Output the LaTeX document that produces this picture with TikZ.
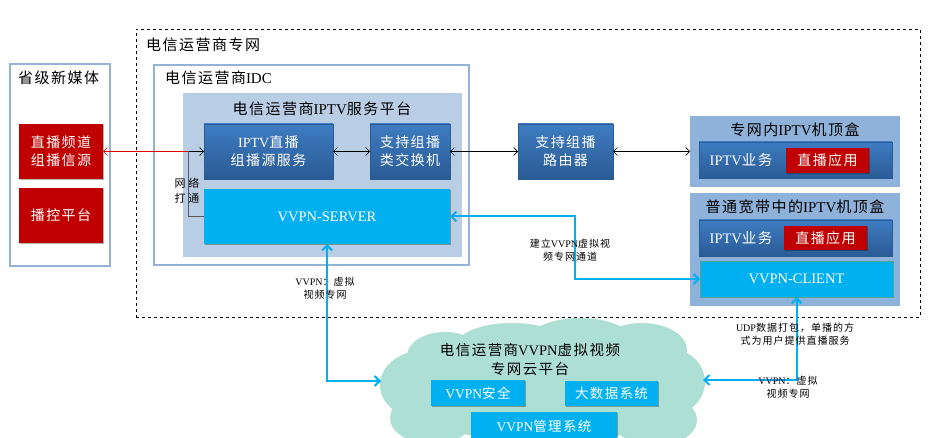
\documentclass[tikz,border=0pt]{standalone}
\usepackage{fontspec}
\setmainfont{Liberation Serif}
\newfontfamily\rmlat{Liberation Serif}
\newfontfamily\cjk{Noto Sans CJK SC}
\XeTeXinterchartokenstate=1
\newXeTeXintercharclass\CJKcls
\newcount\cjkc
\cjkc="4E00
\loop\XeTeXcharclass\cjkc=\CJKcls\ifnum\cjkc<"9FFF\advance\cjkc by 1\repeat
\cjkc="FF00
\loop\XeTeXcharclass\cjkc=\CJKcls\ifnum\cjkc<"FFEF\advance\cjkc by 1\repeat
\cjkc="3000
\loop\XeTeXcharclass\cjkc=\CJKcls\ifnum\cjkc<"303F\advance\cjkc by 1\repeat
\XeTeXinterchartoks 0 \CJKcls={\cjk}
\XeTeXinterchartoks 4095 \CJKcls={\cjk}
\XeTeXinterchartoks \CJKcls 0={\rmlat}
\XeTeXinterchartoks 4095 0={\rmlat}
\XeTeXinterchartoks \CJKcls \CJKcls={\hskip0.1em\relax}
\usetikzlibrary{arrows.meta,shadows}
\definecolor{dkA}{HTML}{3E7CC2}
\definecolor{dkB}{HTML}{2A5B95}
\definecolor{cyanC}{HTML}{00B0F0}
\definecolor{redC}{HTML}{C00000}
\definecolor{platC}{HTML}{B9CDE5}
\definecolor{stbC}{HTML}{8FB2DA}
\definecolor{bordC}{HTML}{95B3D7}
\definecolor{cloudC}{HTML}{ADDFD4}
\definecolor{redL}{HTML}{E00000}
\begin{document}
\begin{tikzpicture}[x=1pt,y=-1pt,
  every node/.style={inner sep=0pt,outer sep=0pt,align=center},
  sh/.style={drop shadow={shadow xshift=1.2pt,shadow yshift=-1.2pt,opacity=0.3,fill=black}},
  darkbox/.style={sh,top color=dkA,bottom color=dkB,draw=dkB,line width=0.4pt,text=white,font=\fontsize{14}{18}\selectfont},
  cyanbox/.style={sh,fill=cyanC,text=white,font=\fontsize{14.5}{18}\selectfont},
  redbox/.style={sh,fill=redC,text=white,font=\fontsize{14}{18}\selectfont},
  framebox/.style={draw=bordC,line width=2pt},
  titletext/.style={font=\fontsize{15}{18}\selectfont},
  smalltext/.style={font=\fontsize{10}{13}\selectfont},
  blk/.style={line width=0.6pt,{Straight Barb[length=4pt,width=8pt]}-{Straight Barb[length=4pt,width=8pt]}},
  cyanline/.style={draw=cyanC,line width=2pt,{Straight Barb[length=5pt,width=10pt]}-{Straight Barb[length=5pt,width=10pt]}}
]
\useasboundingbox[fill=white] (0,0) rectangle (928,438);

% cloud
\begin{scope}[fill=cloudC]
\fill (545,392) ellipse [x radius=150pt,y radius=50pt];
\fill (425,385) ellipse [x radius=45pt,y radius=35pt];
\fill (445,356) ellipse [x radius=38pt,y radius=24pt];
\fill (512,345) ellipse [x radius=55pt,y radius=22pt];
\fill (580,341) ellipse [x radius=52pt,y radius=23pt];
\fill (642,350) ellipse [x radius=45pt,y radius=27pt];
\fill (670,382) ellipse [x radius=35pt,y radius=33pt];
\fill (432,418) ellipse [x radius=42pt,y radius=26pt];
\fill (655,420) ellipse [x radius=42pt,y radius=26pt];
\end{scope}
\coordinate (cloudL) at (381,381);
\coordinate (cloudR) at (703,380);

% outer dashed frame
\node[draw,dashed,line width=0.7pt,minimum width=784pt,minimum height=288pt] (net) at (528,173) {};
\node[titletext,anchor=west] (nettitle) at (146,45) {电信运营商专网};

% province
\node[framebox,minimum width=100pt,minimum height=202pt] (media) at (60,165) {};
\node[titletext,anchor=west] (mediatitle) at (18,78) {省级新媒体};
\node[redbox,minimum width=84pt,minimum height=55pt] (src) at (61,151.5) {直播频道\\组播信源};
\node[redbox,minimum width=84pt,minimum height=55pt] (ctrl) at (61,215.5) {播控平台};

% IDC
\node[framebox,minimum width=315pt,minimum height=200pt] (idc) at (311.5,165) {};
\node[titletext,anchor=west] (idctitle) at (165,78) {电信运营商IDC};
\node[fill=platC,minimum width=279pt,minimum height=164pt] (plat) at (322.5,175) {};
\node[titletext] (plattitle) at (322,109) {电信运营商IPTV服务平台};
\node[darkbox,minimum width=129pt,minimum height=55pt] (iptvsrc) at (268.5,151.5) {IPTV直播\\组播源服务};
\node[darkbox,minimum width=80pt,minimum height=55pt] (switch) at (410,151.5) {支持组播\\类交换机};
\node[cyanbox,minimum width=246pt,minimum height=55pt] (server) at (327,216.5) {VVPN-SERVER};
\node[font=\fontsize{11}{15}\selectfont] (nettext) at (187,190.5) {网\hspace{3pt}络\\打\hspace{3pt}通};

% router
\node[darkbox,minimum width=95pt,minimum height=55pt] (router) at (565.5,151.5) {支持组播\\路由器};

% set-top boxes
\node[fill=stbC,minimum width=210pt,minimum height=71pt] (stb1) at (795,151.5) {};
\node[titletext] (stb1title) at (795,129.5) {专网内IPTV机顶盒};
\node[darkbox,minimum width=193pt,minimum height=36pt] (biz1) at (795.5,160) {};
\node[text=white,font=\fontsize{14.5}{18}\selectfont] (biz1t) at (741,160) {IPTV业务};
\node[redbox,minimum width=83pt,minimum height=25pt] (app1) at (827.5,160.5) {直播应用};

\node[fill=stbC,minimum width=210pt,minimum height=113pt] (stb2) at (795,249.5) {};
\node[titletext] (stb2title) at (795,207) {普通宽带中的IPTV机顶盒};
\node[darkbox,minimum width=193pt,minimum height=36pt] (biz2) at (795.5,238) {};
\node[text=white,font=\fontsize{14.5}{18}\selectfont] (biz2t) at (741,238) {IPTV业务};
\node[redbox,minimum width=83pt,minimum height=24pt] (app2) at (825.5,238) {直播应用};
\node[cyanbox,draw=teal!70,line width=0.5pt,minimum width=193pt,minimum height=36pt] (client) at (796.5,279) {VVPN-CLIENT};

% cloud contents
\node[titletext,font=\fontsize{14.5}{19.5}\selectfont] (cloudtitle) at (530,359.5) {电信运营商VVPN虚拟视频\\专网云平台};
\node[cyanbox,font=\fontsize{13.5}{16}\selectfont,minimum width=94pt,minimum height=26pt] (sec) at (478,393) {VVPN安全};
\node[cyanbox,font=\fontsize{13.5}{16}\selectfont,minimum width=93pt,minimum height=25pt] (bigdata) at (611.5,393.5) {大数据系统};
\node[cyanbox,font=\fontsize{13.5}{16}\selectfont,minimum width=146pt,minimum height=28pt] (mgmt) at (544,426) {VVPN管理系统};

% connectors
\coordinate (j) at (188,151.5);
\draw[draw=redL,line width=0.6pt,-{Straight Barb[length=4pt,width=8pt]}] (j) -- (src.east);
\draw[line width=0.6pt,-{Straight Barb[length=4pt,width=8pt]}] (j) -- (iptvsrc.west);
\draw[draw=black!65,line width=1pt] (j) |- (server.west);
\draw[blk] (iptvsrc.east) -- (switch.west);
\draw[blk] (switch.east) -- (router.west);
\draw[blk] (router.east) -- (router.east -| stb1.west);

\draw[cyanline] (server.east) -- ++(125,0) |- (client.west);
\draw[cyanline] (server.south) |- (cloudL);
\draw[cyanline] (client.south) |- (cloudR);

% labels
\node[smalltext] (lbl1) at (570,250.5) {建立VVPN虚拟视\\频专网通道};
\node[smalltext] (lbl2) at (325,288.5) {VVPN：虚拟\\视频专网};
\node[smalltext] (lbl3) at (795,334) {UDP数据打包，单播的方\\式为用户提供直播服务};
\node[smalltext] (lbl4) at (788,387) {VVPN：虚拟\\视频专网};
\end{tikzpicture}
\end{document}
